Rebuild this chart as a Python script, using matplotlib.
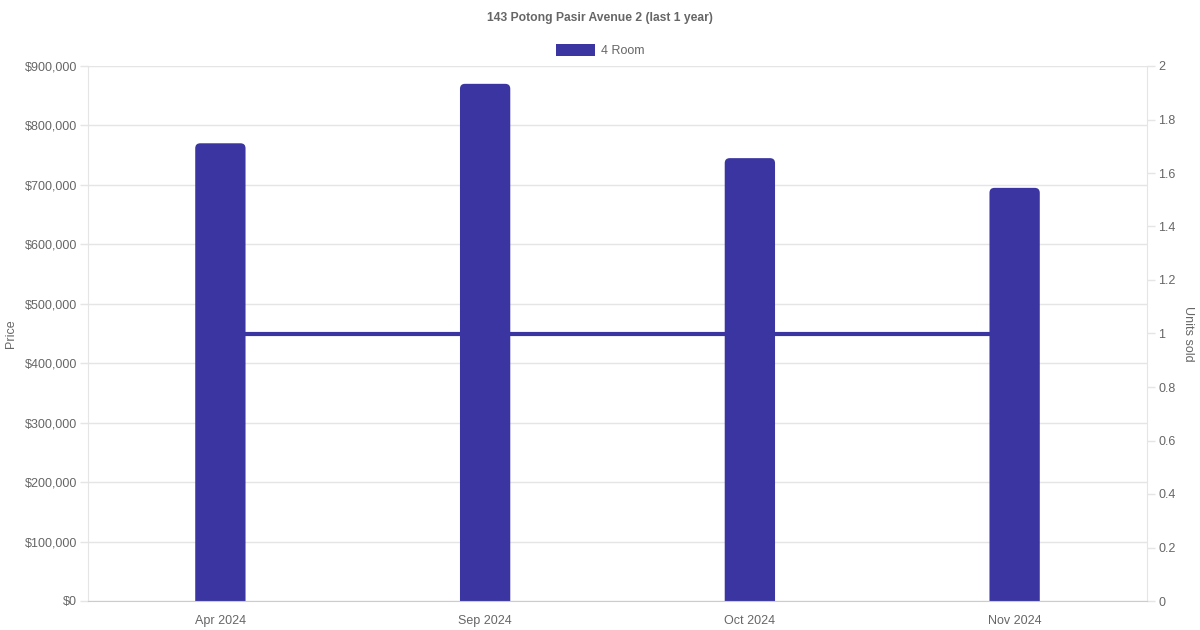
import matplotlib
matplotlib.use("Agg")
import matplotlib.pyplot as plt
from matplotlib.patches import FancyBboxPatch, Rectangle
from matplotlib.ticker import FuncFormatter, MultipleLocator

plt.rcParams["font.family"] = ["Liberation Sans", "DejaVu Sans"]

TITLE = "143 Potong Pasir Avenue 2 (last 1 year)"
months = ["Apr 2024", "Sep 2024", "Oct 2024", "Nov 2024"]
prices = [770000, 870000, 745000, 695000]
units_sold = [1, 1, 1, 1]
SERIES = "4 Room"

BAR_COLOR = "#3a35a0"
TEXT = "#666666"
GRID = "#e5e5e5"

W, H = 1200, 630
fig = plt.figure(figsize=(W / 100, H / 100), dpi=100)
left, right, top, bottom = 88, 1147, 66, 601
ax = fig.add_axes([left / W, 1 - bottom / H, (right - left) / W, (bottom - top) / H])
ax2 = ax.twinx()
ax.set_zorder(ax2.get_zorder() + 1)
ax.patch.set_visible(False)

x = list(range(len(months)))
ax.set_xlim(-0.5, len(months) - 0.5)
ax.set_ylim(0, 900000)
ax2.set_ylim(0, 2)

# units sold line on the right axis, bars cover it
ax2.plot(x, units_sold, color=BAR_COLOR, lw=3, solid_capstyle="butt")

# rounded-top bars (bottom corners pushed below the axis and clipped)
bw = 0.19
px_x = (right - left) / len(months)
px_y = (bottom - top) / 900000
rx = 5 / px_x
aspect = px_x / px_y
below = 12 / px_y
for xi, p in zip(x, prices):
    ax.add_patch(FancyBboxPatch((xi - bw / 2, -below), bw, p + below,
                                boxstyle=f"round,pad=0,rounding_size={rx}",
                                mutation_aspect=aspect,
                                facecolor=BAR_COLOR, edgecolor="none"))

ax.set_xticks(x)
ax.set_xticklabels(months)
ax.yaxis.set_major_locator(MultipleLocator(100000))
ax.yaxis.set_major_formatter(FuncFormatter(lambda v, _: f"${v:,.0f}"))
ax2.yaxis.set_major_locator(MultipleLocator(0.2))
ax2.yaxis.set_major_formatter(FuncFormatter(lambda v, _: f"{v:g}"))

ax.grid(axis="y", color=GRID, lw=1)
ax.set_axisbelow(True)
for a in (ax, ax2):
    for s in a.spines.values():
        s.set_visible(False)
    a.tick_params(colors=GRID, labelcolor=TEXT, labelsize=9, length=6, width=1, pad=2)
ax.spines["left"].set_visible(True)
ax.spines["left"].set_color(GRID)
ax.spines["bottom"].set_visible(True)
ax.spines["bottom"].set_color("#cccccc")
ax2.spines["right"].set_visible(True)
ax2.spines["right"].set_color(GRID)
ax.tick_params(axis="x", length=0, pad=10)

ax.set_ylabel("Price", color=TEXT, fontsize=9, va="center")
ax.yaxis.set_label_coords((11 - left) / (right - left), 0.5)
ax2.set_ylabel("Units sold", color=TEXT, fontsize=9, rotation=270, va="center")
ax2.yaxis.set_label_coords((1188 - left) / (right - left), 0.5)

fig.text(0.5, 1 - 18 / H, TITLE, ha="center", va="center", fontsize=8.7,
         fontweight="bold", color=TEXT)
fig.patches.append(Rectangle((556 / W, 1 - 56 / H), 39 / W, 12 / H,
                             transform=fig.transFigure, facecolor=BAR_COLOR,
                             edgecolor="none"))
fig.text(601 / W, 1 - 51 / H, SERIES, ha="left", va="center", fontsize=9, color=TEXT)

fig.savefig("out.png", dpi=100, facecolor="white")
